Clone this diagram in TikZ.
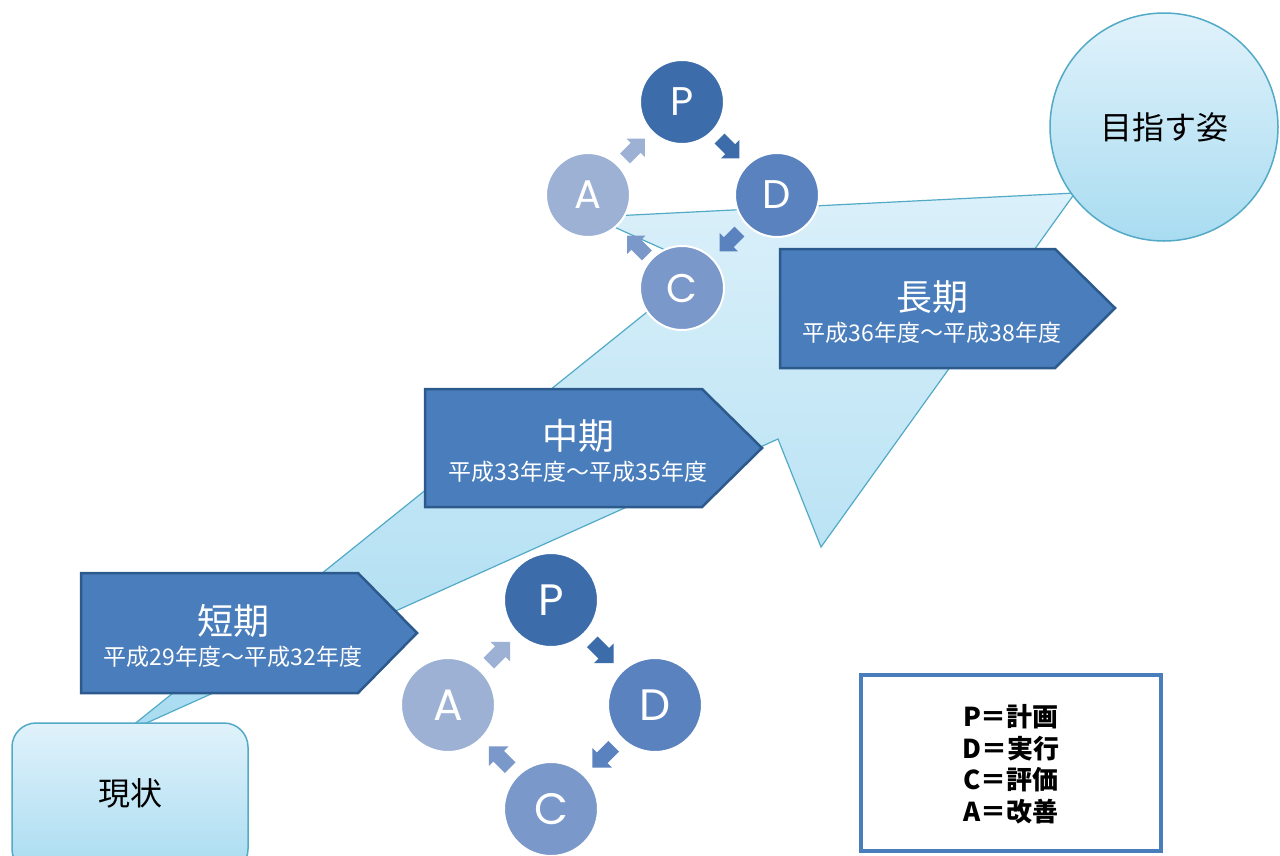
\documentclass[tikz,border=0pt]{standalone}
\usepackage{fontspec}
\setmainfont{Noto Sans CJK JP}
\newfontfamily\pdcafont{Poppins}
\usetikzlibrary{calc}
\definecolor{boxblue}{HTML}{4A7DBB}
\definecolor{boxedge}{HTML}{2D5A8C}
\definecolor{lightedge}{HTML}{52AAC6}
\definecolor{lighttop}{HTML}{E0F2FB}
\definecolor{lightbot}{HTML}{A9DCF1}
\definecolor{cP}{HTML}{3C6DAA}
\definecolor{cD}{HTML}{5A82BF}
\definecolor{cC}{HTML}{7B98CA}
\definecolor{cA}{HTML}{9DB1D5}
\tikzset{
  bigarrow/.style={draw=lightedge, line width=1.2pt, top color=lighttop!90!lightbot, bottom color=lightbot, line join=miter},
  pentbox/.style={draw=boxedge, line width=2.5pt, fill=boxblue, line join=miter},
  ptitle/.style={text=white, font=\fontsize{36}{40}\selectfont, inner sep=0pt},
  psub/.style={text=white, font=\fontsize{23}{26}\selectfont, inner sep=0pt},
  lightshape/.style={draw=lightedge, line width=1.5pt, top color=lighttop, bottom color=lightbot},
  pdca/.style={circle, draw=white, line width=2pt, minimum size=#1, inner sep=0pt, text=white},
  blockarr/.pic={\fill[pic actions] (-14,-7) -- (1,-7) -- (1,-13) -- (14,0) -- (1,13) -- (1,7) -- (-14,7) -- cycle;},
  legendbox/.style={draw=boxblue, line width=4pt, fill=white, minimum width=300pt, minimum height=176pt, inner sep=0pt}
}
\begin{document}
\begin{tikzpicture}[x=1pt,y=-1pt]
\useasboundingbox (0,0) rectangle (1280,855);
\fill[white] (0,0) rectangle (1280,855);

% big arrow
\draw[bigarrow] (122,734) -- (778,439) -- (821,547) -- (1075,193) -- (592,217) -- (703,267) -- cycle;

% period boxes
\draw[pentbox] (81,573) -- (358,573) -- (417,633) -- (358,693) -- (81,693) -- cycle;
\node[ptitle] (t1) at (233,621) {短期};
\node[psub] (s1) at (233,657) {平成29年度～平成32年度};

\draw[pentbox] (425,389) -- (702,389) -- (762,448) -- (702,507) -- (425,507) -- cycle;
\node[ptitle] (t2) at (578,436) {中期};
\node[psub] (s2) at (578,472) {平成33年度～平成35年度};

\draw[pentbox] (780,249) -- (1055,249) -- (1115,308) -- (1055,368) -- (780,368) -- cycle;
\node[ptitle] (t3) at (932,297) {長期};
\node[psub] (s3) at (932,333) {平成36年度～平成38年度};

% current state
\node[lightshape, rounded corners=24pt, minimum width=236pt, minimum height=150pt] (genjo) at (130,798) {};
\node[font=\fontsize{32}{36}\selectfont, inner sep=0pt] (genjotext) at (130,793) {現状};

% goal
\node[lightshape, circle, minimum size=228pt, inner sep=0pt, font=\fontsize{32}{36}\selectfont] (goal) at (1164,127) {目指す姿};

% top PDCA
\node[pdca=84pt, fill=cP, font=\pdcafont\fontsize{40}{40}\selectfont] (P1) at (682,102) {P};
\node[pdca=84pt, fill=cD, font=\pdcafont\fontsize{40}{40}\selectfont] (D1) at (777,195) {D};
\node[pdca=84pt, fill=cC, font=\pdcafont\fontsize{40}{40}\selectfont] (C1) at (682,288) {C};
\node[pdca=84pt, fill=cA, font=\pdcafont\fontsize{40}{40}\selectfont] (A1) at (588,195) {A};
\pic[fill=cA, rotate=45] (a1ap) at ($(A1)!0.5!(P1)$) {blockarr};
\pic[fill=cP, rotate=-45] (a1pd) at ($(P1)!0.5!(D1)$) {blockarr};
\pic[fill=cD, rotate=-135] (a1dc) at ($(D1)!0.5!(C1)$) {blockarr};
\pic[fill=cC, rotate=135] (a1ca) at ($(C1)!0.5!(A1)+(2,4)$) {blockarr};

% bottom PDCA
\node[pdca=94pt, fill=cP, font=\pdcafont\fontsize{44}{44}\selectfont] (P2) at (551,600) {P};
\node[pdca=94pt, fill=cD, font=\pdcafont\fontsize{44}{44}\selectfont] (D2) at (655,705) {D};
\node[pdca=94pt, fill=cC, font=\pdcafont\fontsize{44}{44}\selectfont] (C2) at (551,809) {C};
\node[pdca=94pt, fill=cA, font=\pdcafont\fontsize{44}{44}\selectfont] (A2) at (448,705) {A};
\pic[fill=cA, rotate=45, scale=1.08] (a2ap) at ($(A2)!0.5!(P2)$) {blockarr};
\pic[fill=cP, rotate=-45, scale=1.08] (a2pd) at ($(P2)!0.5!(D2)$) {blockarr};
\pic[fill=cD, rotate=-135, scale=1.08] (a2dc) at ($(D2)!0.5!(C2)$) {blockarr};
\pic[fill=cC, rotate=135, scale=1.08] (a2ca) at ($(C2)!0.5!(A2)$) {blockarr};

% legend
\node[legendbox] (legend) at (1011,763) {};
\node[align=center, font=\bfseries\fontsize{26}{31.5}\selectfont, inner sep=0pt] (legendtext) at (1011,764) {P＝計画\\D＝実行\\C＝評価\\A＝改善};
\end{tikzpicture}
\end{document}
